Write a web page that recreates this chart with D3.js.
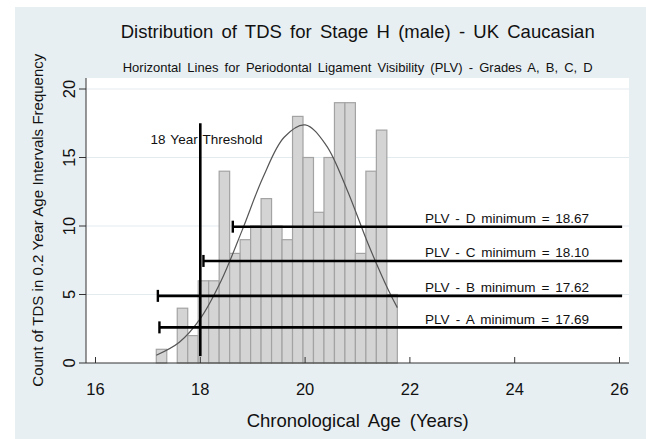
<!DOCTYPE html>
<html>
<head>
<meta charset="utf-8">
<script src="https://cdn.jsdelivr.net/npm/d3@7"></script>
<style>
  html, body { margin: 0; padding: 0; background: #fff; }
  svg { display: block; font-family: "Liberation Sans", Arial, sans-serif; }
</style>
</head>
<body>
<div id="chart"></div>
<script>
// histogram: 0.2 year bins starting at 17.16
const binStart = 17.16;
const binWidth = 0.2;
const counts = [1, 0, 4, 2, 6, 6, 14, 8, 9, 10, 12, 10, 9, 18, 15, 11, 15, 19, 19, 8, 14, 17, 5];

// fitted normal curve
const curveAge = [17.16, 17.6, 18.0, 18.4, 18.8, 19.2, 19.6, 20.0, 20.4, 20.8, 21.2, 21.6, 21.76];
const curveCount = [0.57, 1.52, 3.24, 6.02, 9.7, 13.58, 16.48, 17.38, 15.91, 12.65, 8.72, 5.23, 4.04];

// PLV grade lines
const grades = ["A", "B", "C", "D"];
const plvMinimum = ["17.69", "17.62", "18.10", "18.67"];
const plvStart = [17.22, 17.19, 18.06, 18.62];
const plvLevel = [2.6, 4.9, 7.45, 9.95];
const plvEnd = 26.05;

const thresholdAge = 18;
const thresholdRange = [0.5, 17.5];

const xTicks = [16, 18, 20, 22, 24, 26];
const yTicks = [0, 5, 10, 15, 20];

const width = 646, height = 439;
const plot = { left: 86, right: 629, top: 78, bottom: 363 };

const svg = d3.select("#chart").append("svg")
    .attr("width", width)
    .attr("height", height);

const x = d3.scaleLinear().domain([16, 26]).range([95.5, 619.5]);
const y = d3.scaleLinear().domain([0, 20]).range([363, 89]);

// stretch the gaps between words so a text spans a given width
function fitWords(sel, target) {
    const node = sel.node();
    const len = node.getComputedTextLength();
    const gaps = (sel.text().match(/ /g) || []).length;
    if (gaps > 0) sel.attr("word-spacing", (target - len) / gaps);
}

// backgrounds
svg.append("rect")
    .attr("x", 15).attr("y", 7)
    .attr("width", width - 15).attr("height", height - 7)
    .attr("fill", "#e8eff2");

svg.append("rect")
    .attr("x", plot.left).attr("y", plot.top)
    .attr("width", plot.right - plot.left).attr("height", plot.bottom - plot.top)
    .attr("fill", "#fff");

// grid lines
svg.append("g").selectAll("line")
    .data(yTicks.filter(d => d > 0))
    .join("line")
    .attr("x1", plot.left).attr("x2", plot.right)
    .attr("y1", d => y(d)).attr("y2", d => y(d))
    .attr("stroke", "#e3ebef")
    .attr("stroke-width", 1);

// bars
svg.append("g").selectAll("rect")
    .data(counts.map((c, i) => ({ x0: binStart + i * binWidth, c })).filter(d => d.c > 0))
    .join("rect")
    .attr("x", d => x(d.x0))
    .attr("y", d => y(d.c))
    .attr("width", d => x(d.x0 + binWidth) - x(d.x0))
    .attr("height", d => y(0) - y(d.c))
    .attr("fill", "#d4d4d4")
    .attr("stroke", "#a3a3a3")
    .attr("stroke-width", 1.2);

// normal curve
const line = d3.line()
    .x((d, i) => x(curveAge[i]))
    .y(d => y(d))
    .curve(d3.curveCatmullRom);

svg.append("path")
    .attr("d", line(curveCount))
    .attr("fill", "none")
    .attr("stroke", "#555")
    .attr("stroke-width", 1.2);

// 18 year threshold
svg.append("line")
    .attr("x1", x(thresholdAge)).attr("x2", x(thresholdAge))
    .attr("y1", y(thresholdRange[0])).attr("y2", y(thresholdRange[1]))
    .attr("stroke", "#000")
    .attr("stroke-width", 2.6);

const thrLabel = svg.append("text")
    .attr("x", x(17.05)).attr("y", y(16))
    .attr("font-size", 13.5)
    .attr("fill", "#111")
    .text("18 Year Threshold");
fitWords(thrLabel, 112);

// PLV lines
const plv = svg.append("g").selectAll("g")
    .data(grades.map((g, i) => ({ g, min: plvMinimum[i], x0: plvStart[i], lvl: plvLevel[i] })))
    .join("g");

plv.append("line")
    .attr("x1", d => x(d.x0)).attr("x2", x(plvEnd))
    .attr("y1", d => y(d.lvl)).attr("y2", d => y(d.lvl))
    .attr("stroke", "#000")
    .attr("stroke-width", 2.6);

plv.append("line")
    .attr("x1", d => x(d.x0)).attr("x2", d => x(d.x0))
    .attr("y1", d => y(d.lvl) - 6).attr("y2", d => y(d.lvl) + 6)
    .attr("stroke", "#000")
    .attr("stroke-width", 2.4);

plv.append("text")
    .attr("x", x(25.42))
    .attr("y", d => y(d.lvl) - 3.5)
    .attr("text-anchor", "end")
    .attr("font-size", 13.5)
    .attr("fill", "#111")
    .text(d => `PLV - ${d.g} minimum = ${d.min}`)
    .each(function() { fitWords(d3.select(this), 164); });

// axes
const axisColor = "#333";
svg.append("line")
    .attr("x1", plot.left).attr("x2", plot.left)
    .attr("y1", plot.top).attr("y2", plot.bottom)
    .attr("stroke", axisColor);
svg.append("line")
    .attr("x1", plot.left).attr("x2", plot.right)
    .attr("y1", plot.bottom).attr("y2", plot.bottom)
    .attr("stroke", axisColor);

svg.append("g").selectAll("line")
    .data(xTicks)
    .join("line")
    .attr("x1", d => x(d)).attr("x2", d => x(d))
    .attr("y1", plot.bottom).attr("y2", plot.bottom - 6)
    .attr("stroke", axisColor);

svg.append("g").selectAll("text")
    .data(xTicks)
    .join("text")
    .attr("x", d => x(d)).attr("y", 395)
    .attr("text-anchor", "middle")
    .attr("font-size", 16.5)
    .attr("fill", "#111")
    .text(d => d);

svg.append("g").selectAll("line")
    .data(yTicks)
    .join("line")
    .attr("x1", plot.left - 7).attr("x2", plot.left)
    .attr("y1", d => y(d)).attr("y2", d => y(d))
    .attr("stroke", axisColor);

svg.append("g").selectAll("text")
    .data(yTicks)
    .join("text")
    .attr("transform", d => `translate(75,${y(d)}) rotate(-90)`)
    .attr("text-anchor", "middle")
    .attr("font-size", 16.5)
    .attr("fill", "#111")
    .text(d => d);

// titles
const title = svg.append("text")
    .attr("x", 120.7).attr("y", 38)
    .attr("font-size", 18.5)
    .attr("fill", "#111")
    .text("Distribution of TDS for Stage H (male) - UK Caucasian");
fitWords(title, 474);

const subtitle = svg.append("text")
    .attr("x", 122.7).attr("y", 72)
    .attr("font-size", 13)
    .attr("fill", "#111")
    .text("Horizontal Lines for Periodontal Ligament Visibility (PLV) - Grades A, B, C, D");
fitWords(subtitle, 470);

const xTitle = svg.append("text")
    .attr("x", 246.7).attr("y", 427)
    .attr("font-size", 18.5)
    .attr("fill", "#111")
    .text("Chronological Age (Years)");
fitWords(xTitle, 222);

const yTitle = svg.append("text")
    .attr("transform", "translate(43,386.7) rotate(-90)")
    .attr("font-size", 15)
    .attr("fill", "#111")
    .text("Count of TDS in 0.2 Year Age Intervals Frequency");
fitWords(yTitle, 333);
</script>
</body>
</html>
